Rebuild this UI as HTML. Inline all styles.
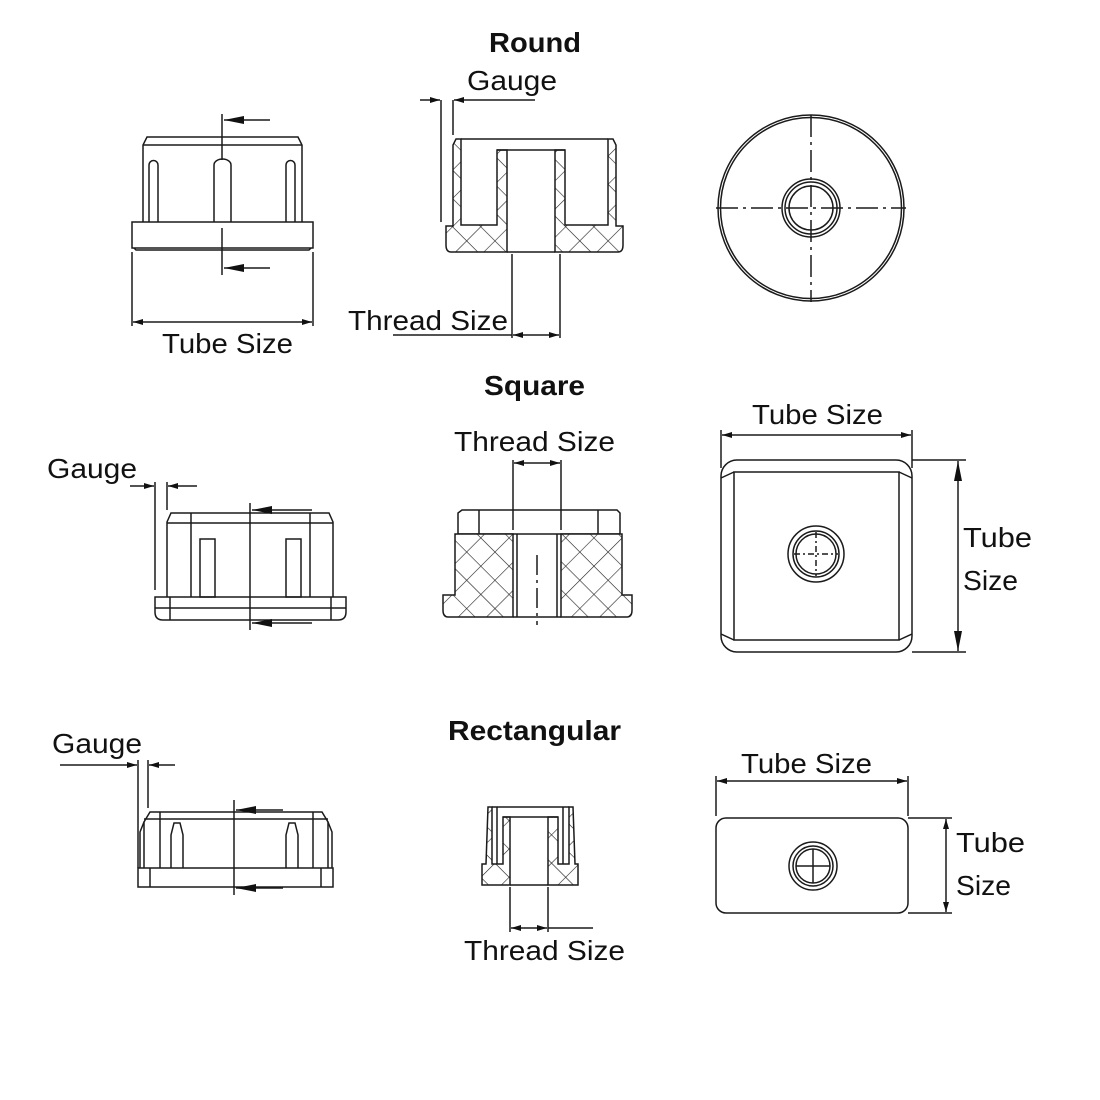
<!DOCTYPE html>
<html><head><meta charset="utf-8"><style>
html,body{margin:0;padding:0;background:#fff;}
svg{display:block}
text{font-family:"Liberation Sans",sans-serif;fill:#111;}
.b{font-weight:bold}
</style></head><body>
<svg width="1100" height="1100" viewBox="0 0 1100 1100" xmlns="http://www.w3.org/2000/svg">
<defs>
<pattern id="h" width="20" height="20" patternUnits="userSpaceOnUse" patternTransform="rotate(45)">
<rect width="20" height="20" fill="#fff"/>
<line x1="0" y1="0" x2="0" y2="20" stroke="#222" stroke-width="1.2"/>
<line x1="0" y1="0" x2="20" y2="0" stroke="#222" stroke-width="1.2"/>
</pattern>
<marker id="a" viewBox="0 0 10 6" refX="10" refY="3" markerWidth="10" markerHeight="6" orient="auto" markerUnits="userSpaceOnUse"><path d="M0,0L10,3L0,6z" fill="#111"/></marker>
<marker id="A" viewBox="0 0 20 8" refX="20" refY="4" markerWidth="20" markerHeight="8" orient="auto" markerUnits="userSpaceOnUse"><path d="M0,0L20,4L0,8z" fill="#111"/></marker>
</defs>
<g fill="none" stroke="#1a1a1a" stroke-width="1.5">

<!-- ROUND left -->
<path d="M143,222V145L147,137H298L302,145V222"/>
<line x1="143" y1="145" x2="302" y2="145"/>
<rect x="132" y="222" width="181" height="26"/>
<path d="M134,248L136,250H309L311,248"/>
<path d="M149,222V165a4.5,4.5 0 0 1 9,0V222"/>
<path d="M214,222V165a8.5,6 0 0 1 17,0V222"/>
<path d="M286,222V165a4.5,4.5 0 0 1 9,0V222"/>
<line x1="222" y1="114" x2="222" y2="160"/>
<line x1="222" y1="228" x2="222" y2="275"/>
<line x1="270" y1="120" x2="224" y2="120" marker-end="url(#A)"/>
<line x1="270" y1="268" x2="224" y2="268" marker-end="url(#A)"/>
<line x1="132" y1="252" x2="132" y2="326"/>
<line x1="313" y1="252" x2="313" y2="326"/>
<line x1="222" y1="322" x2="133" y2="322" marker-end="url(#a)"/>
<line x1="222" y1="322" x2="312" y2="322" marker-end="url(#a)"/>

<!-- ROUND middle -->
<path d="M456,139H461V225H497V150H507V252H451Q446,252 446,245V226H453V145Z" fill="url(#h)"/>
<path d="M613,139H608V225H565V150H555V252H618Q623,252 623,245V226H616V145Z" fill="url(#h)"/>
<line x1="461" y1="139" x2="608" y2="139"/>
<line x1="497" y1="150" x2="565" y2="150"/>
<line x1="507" y1="252" x2="555" y2="252"/>
<line x1="441" y1="100" x2="441" y2="222"/>
<line x1="453" y1="100" x2="453" y2="135"/>
<line x1="420" y1="100" x2="440" y2="100" marker-end="url(#a)"/>
<line x1="535" y1="100" x2="454" y2="100" marker-end="url(#a)"/>
<line x1="512" y1="254" x2="512" y2="338"/>
<line x1="560" y1="254" x2="560" y2="338"/>
<line x1="536" y1="335" x2="513" y2="335" marker-end="url(#a)"/>
<line x1="536" y1="335" x2="559" y2="335" marker-end="url(#a)"/>
<line x1="393" y1="335" x2="512" y2="335"/>

<!-- ROUND right -->
<circle cx="811" cy="208" r="93"/>
<circle cx="811" cy="208" r="90.5"/>
<circle cx="811" cy="208" r="29"/>
<circle cx="811" cy="208" r="26"/>
<circle cx="811" cy="208" r="22"/>
<line x1="716" y1="208" x2="906" y2="208" stroke-dasharray="22,5,3,5"/>
<line x1="811" y1="115" x2="811" y2="302" stroke-dasharray="22,5,3,5"/>

<!-- SQUARE left -->
<path d="M167,597V522L171,513H329L333,522V597"/>
<line x1="167" y1="523" x2="333" y2="523"/>
<line x1="191" y1="513" x2="191" y2="597"/>
<line x1="310" y1="513" x2="310" y2="597"/>
<path d="M155,597H346V612Q346,620 338,620H163Q155,620 155,612Z"/>
<line x1="155" y1="608" x2="346" y2="608"/>
<line x1="170" y1="597" x2="170" y2="620"/>
<line x1="331" y1="597" x2="331" y2="620"/>
<rect x="200" y="539" width="15" height="58"/>
<rect x="286" y="539" width="15" height="58"/>
<line x1="250" y1="503" x2="250" y2="630"/>
<line x1="312" y1="510" x2="252" y2="510" marker-end="url(#A)"/>
<line x1="312" y1="623" x2="252" y2="623" marker-end="url(#A)"/>
<line x1="155" y1="482" x2="155" y2="590"/>
<line x1="167" y1="482" x2="167" y2="510"/>
<line x1="130" y1="486" x2="154" y2="486" marker-end="url(#a)"/>
<line x1="197" y1="486" x2="168" y2="486" marker-end="url(#a)"/>

<!-- SQUARE middle -->
<path d="M458,513L462,510H617L620,513V534H458Z"/>
<line x1="479" y1="510" x2="479" y2="534"/>
<line x1="598" y1="510" x2="598" y2="534"/>
<path d="M455,534H513V617H448Q443,617 443,610V595H455Z" fill="url(#h)"/>
<path d="M622,534H561V617H627Q632,617 632,610V595H622Z" fill="url(#h)"/>
<line x1="513" y1="617" x2="561" y2="617"/>
<line x1="517" y1="534" x2="517" y2="617"/>
<line x1="557" y1="534" x2="557" y2="617"/>
<line x1="537" y1="555" x2="537" y2="625" stroke-dasharray="20,5,3,5"/>
<line x1="513" y1="460" x2="513" y2="530"/>
<line x1="561" y1="460" x2="561" y2="530"/>
<line x1="537" y1="463" x2="514" y2="463" marker-end="url(#a)"/>
<line x1="537" y1="463" x2="560" y2="463" marker-end="url(#a)"/>

<!-- SQUARE right -->
<rect x="721" y="460" width="191" height="192" rx="16"/>
<rect x="734" y="472" width="165" height="168"/>
<path d="M721,478L734,472M912,478L899,472M721,634L734,640M912,634L899,640"/>
<circle cx="816" cy="554" r="28"/>
<circle cx="816" cy="554" r="23"/>
<circle cx="816" cy="554" r="20"/>
<line x1="794" y1="554" x2="838" y2="554" stroke-dasharray="6,3,2,3"/>
<line x1="816" y1="532" x2="816" y2="576" stroke-dasharray="6,3,2,3"/>
<line x1="721" y1="430" x2="721" y2="468"/>
<line x1="912" y1="430" x2="912" y2="468"/>
<line x1="816" y1="435" x2="722" y2="435" marker-end="url(#a)"/>
<line x1="816" y1="435" x2="911" y2="435" marker-end="url(#a)"/>
<line x1="912" y1="460" x2="966" y2="460"/>
<line x1="912" y1="652" x2="966" y2="652"/>
<line x1="958" y1="556" x2="958" y2="461" marker-end="url(#A)"/>
<line x1="958" y1="556" x2="958" y2="651" marker-end="url(#A)"/>

<!-- RECT left -->
<path d="M144,868V822L150,812H322L328,822V868"/>
<line x1="144" y1="819" x2="328" y2="819"/>
<path d="M140,868V832L144,822M332,868V832L328,822"/>
<line x1="160" y1="812" x2="160" y2="868"/>
<line x1="313" y1="812" x2="313" y2="868"/>
<rect x="138" y="868" width="195" height="19"/>
<line x1="150" y1="868" x2="150" y2="887"/>
<line x1="321" y1="868" x2="321" y2="887"/>
<path d="M171,868V835L174,823H180L183,835V868"/>
<path d="M286,868V835L289,823H295L298,835V868"/>
<line x1="234" y1="800" x2="234" y2="895"/>
<line x1="283" y1="810" x2="236" y2="810" marker-end="url(#A)"/>
<line x1="283" y1="888" x2="236" y2="888" marker-end="url(#A)"/>
<line x1="138" y1="760" x2="138" y2="868"/>
<line x1="148" y1="760" x2="148" y2="808"/>
<line x1="60" y1="765" x2="137" y2="765" marker-end="url(#a)"/>
<line x1="175" y1="765" x2="149" y2="765" marker-end="url(#a)"/>

<!-- RECT middle -->
<path d="M488,807H492V864H503V817H510V885H482V864H486Z" fill="url(#h)"/>
<path d="M573,807H569V864H558V817H548V885H578V864H575Z" fill="url(#h)"/>
<line x1="492" y1="807" x2="569" y2="807"/>
<line x1="503" y1="817" x2="558" y2="817"/>
<line x1="497" y1="807" x2="497" y2="864"/>
<line x1="563" y1="807" x2="563" y2="864"/>
<line x1="510" y1="885" x2="548" y2="885"/>
<line x1="510" y1="887" x2="510" y2="932"/>
<line x1="548" y1="887" x2="548" y2="932"/>
<line x1="529" y1="928" x2="511" y2="928" marker-end="url(#a)"/>
<line x1="529" y1="928" x2="547" y2="928" marker-end="url(#a)"/>
<line x1="548" y1="928" x2="593" y2="928"/>

<!-- RECT right -->
<rect x="716" y="818" width="192" height="95" rx="10"/>
<circle cx="813" cy="866" r="24"/>
<circle cx="813" cy="866" r="20"/>
<circle cx="813" cy="866" r="17"/>
<line x1="796" y1="866" x2="830" y2="866"/>
<line x1="813" y1="849" x2="813" y2="883"/>
<line x1="716" y1="776" x2="716" y2="816"/>
<line x1="908" y1="776" x2="908" y2="816"/>
<line x1="812" y1="781" x2="717" y2="781" marker-end="url(#a)"/>
<line x1="812" y1="781" x2="907" y2="781" marker-end="url(#a)"/>
<line x1="908" y1="818" x2="952" y2="818"/>
<line x1="908" y1="913" x2="952" y2="913"/>
<line x1="946" y1="866" x2="946" y2="819" marker-end="url(#a)"/>
<line x1="946" y1="866" x2="946" y2="912" marker-end="url(#a)"/>
</g>

<g font-size="28">
<text x="489" y="52" class="b" textLength="92" lengthAdjust="spacingAndGlyphs">Round</text>
<text x="467" y="90" textLength="90" lengthAdjust="spacingAndGlyphs">Gauge</text>
<text x="348" y="330" textLength="160" lengthAdjust="spacingAndGlyphs">Thread Size</text>
<text x="162" y="353" textLength="131" lengthAdjust="spacingAndGlyphs">Tube Size</text>
<text x="484" y="395" class="b" textLength="101" lengthAdjust="spacingAndGlyphs">Square</text>
<text x="47" y="478" textLength="90" lengthAdjust="spacingAndGlyphs">Gauge</text>
<text x="454" y="451" textLength="161" lengthAdjust="spacingAndGlyphs">Thread Size</text>
<text x="752" y="424" textLength="131" lengthAdjust="spacingAndGlyphs">Tube Size</text>
<text x="963" y="547" textLength="69" lengthAdjust="spacingAndGlyphs">Tube</text>
<text x="963" y="590" textLength="55" lengthAdjust="spacingAndGlyphs">Size</text>
<text x="448" y="740" class="b" textLength="173" lengthAdjust="spacingAndGlyphs">Rectangular</text>
<text x="52" y="753" textLength="90" lengthAdjust="spacingAndGlyphs">Gauge</text>
<text x="464" y="960" textLength="161" lengthAdjust="spacingAndGlyphs">Thread Size</text>
<text x="741" y="773" textLength="131" lengthAdjust="spacingAndGlyphs">Tube Size</text>
<text x="956" y="852" textLength="69" lengthAdjust="spacingAndGlyphs">Tube</text>
<text x="956" y="895" textLength="55" lengthAdjust="spacingAndGlyphs">Size</text>
</g>
</svg>
</body></html>
